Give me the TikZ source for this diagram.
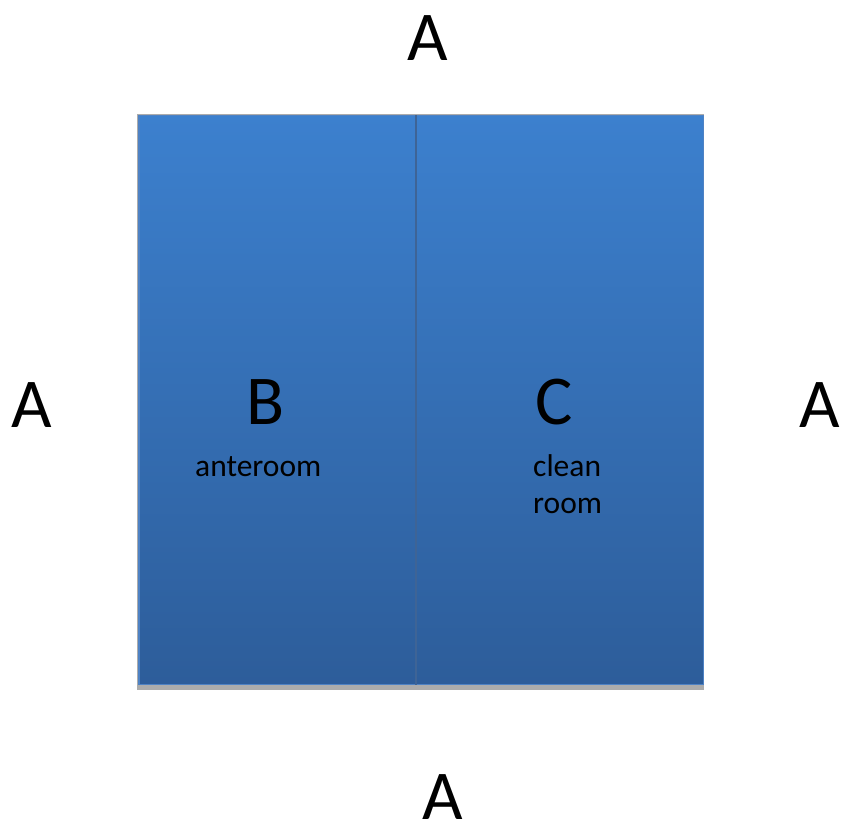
\documentclass[tikz,border=0pt]{standalone}
\usepackage{fontspec}
\setmainfont{Carlito}
\definecolor{topblue}{RGB}{60,128,206}
\definecolor{botblue}{RGB}{45,93,154}
\definecolor{edgeblue}{RGB}{78,130,196}
\definecolor{divblue}{RGB}{62,100,150}
\definecolor{shadowgray}{RGB}{172,172,172}
\begin{document}
\begin{tikzpicture}[x=1pt,y=-1pt,
  big/.style={font=\fontsize{70}{84}\selectfont, inner sep=0pt, anchor=base},
  small/.style={font=\fontsize{31.5}{37}\selectfont, inner sep=0pt, align=left, anchor=base west},
  panel/.style={shade, top color=topblue, bottom color=botblue, draw=edgeblue, line width=1.2pt, anchor=north west, inner sep=0pt, minimum height=569pt}]
\useasboundingbox (0,0) rectangle (850,823);
\fill[shadowgray] (137.2,114) rectangle (704,690);
\node[panel, minimum width=276.5pt] (anteroom) at (138.4,115) {};
\node[panel, minimum width=287.5pt] (cleanroom) at (415,115) {};
\draw[divblue, line width=1.4pt] (anteroom.north east) -- (anteroom.south east);
\node[big] (atop) at (428,60) {A};
\node[big] (aleft) at (32,427) {A};
\node[big] (aright) at (820,427) {A};
\node[big] (abottom) at (443,819) {A};
\node[big] (b) at (266,424) {B};
\node[big] (c) at (554,424) {C};
\node[small] (blabel) at (195,476) {anteroom};
\node[small] (clabel) at (533,513) {clean\\room};
\end{tikzpicture}
\end{document}
